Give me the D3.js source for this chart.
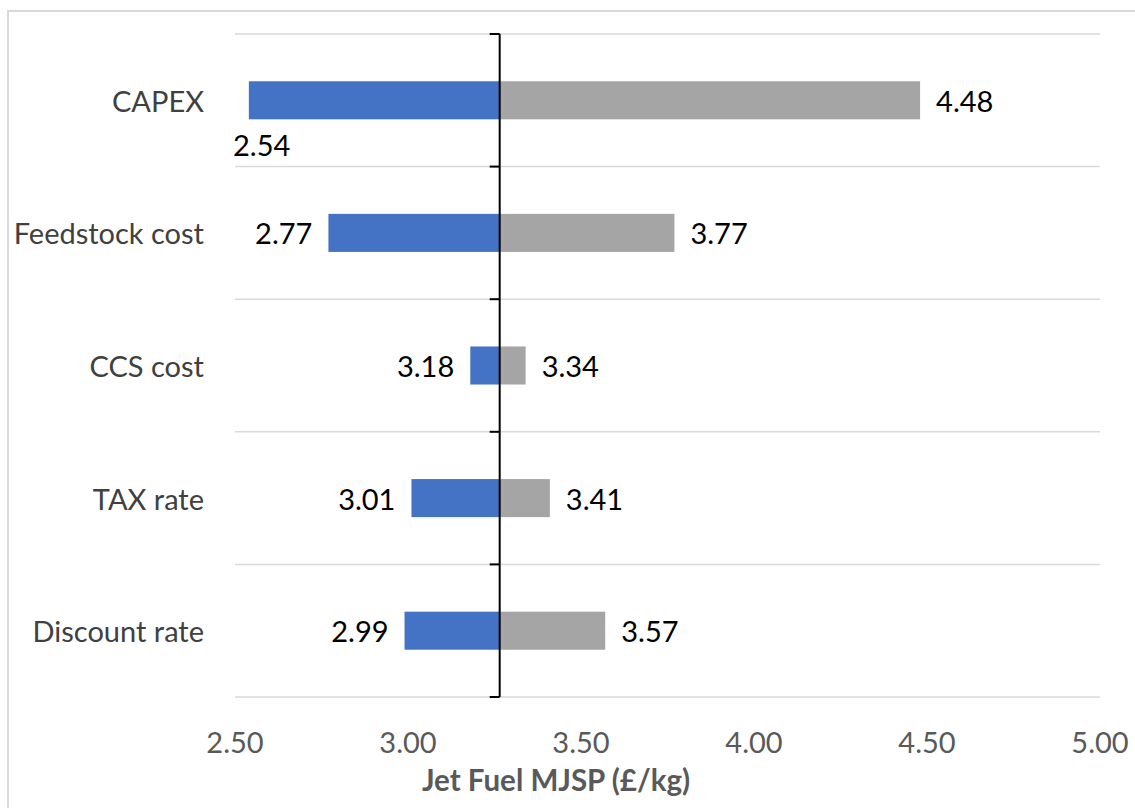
<!DOCTYPE html>
<html>
<head>
<meta charset="utf-8">
<script src="https://cdn.jsdelivr.net/npm/d3@7"></script>
<style>
  html, body { margin: 0; padding: 0; background: #fff; }
  svg { display: block; }
  text { font-family: Lato, "Open Sans", sans-serif; }
</style>
</head>
<body>
<svg id="chart" width="1135" height="808"></svg>
<script>
// Sensitivity of jet fuel MJSP to each input parameter
const categories = ["CAPEX", "Feedstock cost", "CCS cost", "TAX rate", "Discount rate"];
const lowValues  = [2.54, 2.77, 3.18, 3.01, 2.99];
const highValues = [4.48, 3.77, 3.34, 3.41, 3.57];
const baseValue  = 3.265;
const xTicks     = [2.50, 3.00, 3.50, 4.00, 4.50, 5.00];
const xTitle     = "Jet Fuel MJSP (£/kg)";

const svg = d3.select("#chart");
const fontSize = 29;

// chart frame
svg.append("rect")
  .attr("x", 8).attr("y", 11)
  .attr("width", 1140).attr("height", 810)
  .attr("fill", "none").attr("stroke", "#d9d9d9").attr("stroke-width", 2);

const x = d3.scaleLinear().domain([2.5, 5.0]).range([235, 1100]);
const y = d3.scaleBand().domain(categories).range([34, 697])
  .paddingInner(0.713).paddingOuter(0.3565);

const step = y.step();
const gridYs = d3.range(categories.length + 1).map(i => y.range()[0] + i * step);

// horizontal gridlines between categories
svg.append("g").selectAll("line").data(gridYs).join("line")
  .attr("x1", x.range()[0]).attr("x2", x.range()[1])
  .attr("y1", d => d).attr("y2", d => d)
  .attr("stroke", "#d9d9d9").attr("stroke-width", 1.5);

// low-case bars (blue) and high-case bars (grey), both from the base value
const rows = categories.map((c, i) => ({ c, lo: lowValues[i], hi: highValues[i] }));

svg.append("g").selectAll("rect").data(rows).join("rect")
  .attr("x", d => x(d.lo))
  .attr("y", d => y(d.c))
  .attr("width", d => x(baseValue) - x(d.lo))
  .attr("height", y.bandwidth())
  .attr("fill", "#4472c4");

svg.append("g").selectAll("rect").data(rows).join("rect")
  .attr("x", x(baseValue))
  .attr("y", d => y(d.c))
  .attr("width", d => x(d.hi) - x(baseValue))
  .attr("height", y.bandwidth())
  .attr("fill", "#a5a5a5");

// vertical category axis at the base value
const axisX = x(baseValue);
const vAxis = svg.append("g");
vAxis.append("line")
  .attr("x1", axisX).attr("x2", axisX)
  .attr("y1", gridYs[0]).attr("y2", gridYs[gridYs.length - 1])
  .attr("stroke", "#000").attr("stroke-width", 2);
vAxis.selectAll("line.tick").data(gridYs).join("line")
  .attr("class", "tick")
  .attr("x1", axisX - 10).attr("x2", axisX)
  .attr("y1", d => d).attr("y2", d => d)
  .attr("stroke", "#000").attr("stroke-width", 2);

// category labels
svg.append("g").selectAll("text").data(categories).join("text")
  .attr("x", 204)
  .attr("y", d => y(d) + y.bandwidth() / 2)
  .attr("text-anchor", "end")
  .attr("dominant-baseline", "central")
  .attr("font-size", fontSize)
  .attr("fill", "#404040")
  .text(d => d);

// value labels
const fmt = d3.format(".2f");
const gap = 16;
const labels = svg.append("g").attr("font-size", fontSize).attr("fill", "#000");

labels.selectAll("text.lo").data(rows).join("text")
  .attr("class", "lo")
  .each(function(d) {
    const t = d3.select(this);
    const cy = y(d.c) + y.bandwidth() / 2;
    if (x(d.lo) - gap - 60 < x.range()[0]) {
      // not enough room on the left: set the label below the bar
      t.attr("x", x.range()[0] - 2).attr("y", y(d.c) + y.bandwidth() + 25)
        .attr("text-anchor", "start");
    } else {
      t.attr("x", x(d.lo) - gap).attr("y", cy).attr("text-anchor", "end");
    }
  })
  .attr("dominant-baseline", "central")
  .text(d => fmt(d.lo));

labels.selectAll("text.hi").data(rows).join("text")
  .attr("class", "hi")
  .attr("x", d => x(d.hi) + gap)
  .attr("y", d => y(d.c) + y.bandwidth() / 2)
  .attr("text-anchor", "start")
  .attr("dominant-baseline", "central")
  .text(d => fmt(d.hi));

// value axis tick labels
svg.append("g").selectAll("text").data(xTicks).join("text")
  .attr("x", d => x(d))
  .attr("y", 741)
  .attr("text-anchor", "middle")
  .attr("dominant-baseline", "central")
  .attr("font-size", fontSize)
  .attr("fill", "#595959")
  .text(d => fmt(d));

// value axis title
svg.append("text")
  .attr("x", 556)
  .attr("y", 779)
  .attr("text-anchor", "middle")
  .attr("dominant-baseline", "central")
  .attr("font-size", 29.5)
  .attr("font-weight", "bold")
  .attr("fill", "#595959")
  .text(xTitle);
</script>
</body>
</html>
